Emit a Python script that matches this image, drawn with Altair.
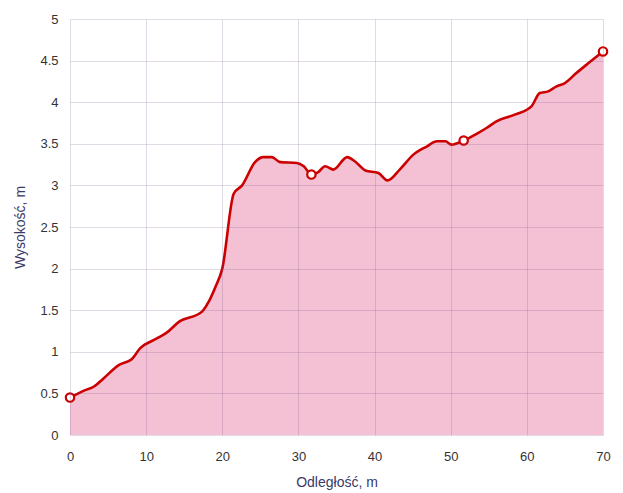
import altair as alt
import pandas as pd

distance = [0, 2.0, 3.1, 4.4, 6.4, 8.1, 9.2, 11.4, 12.7, 14.3, 17.3, 18.2, 19.1, 20.0, 21.5,
            22.6, 24.3, 25.4, 26.5, 27.6, 29.8, 30.7, 31.7, 32.6, 33.5, 34.6, 36.4, 37.4, 38.8,
            40.5, 41.7, 43.3, 45.1, 46.9, 48.2, 49.3, 50.1, 51.7, 53.4, 54.7, 56.0, 58.4, 60.6,
            61.7, 62.8, 63.9, 65.0, 66.5, 68.1, 70]
height = [0.45, 0.54, 0.58, 0.68, 0.84, 0.91, 1.04, 1.16, 1.23, 1.36, 1.48, 1.60, 1.78, 2.0, 2.9,
          3.0, 3.28, 3.34, 3.34, 3.28, 3.27, 3.23, 3.13, 3.16, 3.23, 3.19, 3.34, 3.29, 3.18,
          3.15, 3.06, 3.19, 3.37, 3.47, 3.53, 3.53, 3.49, 3.54, 3.62, 3.69, 3.77, 3.85, 3.95,
          4.11, 4.13, 4.19, 4.23, 4.35, 4.47, 4.61]
marker_distance = [0, 31.7, 51.7, 70]
marker_height = [0.45, 3.13, 3.54, 4.61]

x_ticks = [0, 10, 20, 30, 40, 50, 60, 70]
y_ticks = [0, 0.5, 1, 1.5, 2, 2.5, 3, 3.5, 4, 4.5, 5]

df = pd.DataFrame({"d": distance, "h": height})
mk = pd.DataFrame({"d": marker_distance, "h": marker_height})

font = "Liberation Sans"

x_enc = alt.X("d:Q", scale=alt.Scale(domain=[0, 70], nice=False),
              axis=alt.Axis(values=x_ticks, title="Odległość, m", grid=True, domain=False,
                            ticks=False, labelPadding=15, titlePadding=12, zindex=1,
                            labelFlush=False, labelOverlap=False,
                            labelExpr="'' + datum.value"))
y_enc = alt.Y("h:Q", scale=alt.Scale(domain=[0, 5], nice=False),
              axis=alt.Axis(values=y_ticks, title="Wysokość, m", grid=True, domain=False,
                            ticks=False, labelPadding=12, titlePadding=12, zindex=1,
                            labelFlush=False, labelOverlap=False,
                            labelExpr="'' + datum.value"))

area = alt.Chart(df).mark_area(color="#f0b0c6", opacity=0.78, interpolate="monotone").encode(
    x=x_enc, y=y_enc)
line = alt.Chart(df).mark_line(color="#cc0000", strokeWidth=2.6, interpolate="monotone").encode(
    x="d:Q", y="h:Q")
points = alt.Chart(mk).mark_point(shape="circle", size=70, filled=False, color="#cc0000",
                                  strokeWidth=2.2, fill="#ffffff", fillOpacity=1, opacity=1).encode(
    x="d:Q", y="h:Q")

chart = (area + line + points).properties(
    width=533, height=416,
    autosize=alt.AutoSizeParams(type="none"),
    padding={"left": 62, "top": 11, "right": 12, "bottom": 58},
    background="#ffffff",
).configure_axis(
    labelFont=font, titleFont=font, labelFontSize=13, titleFontSize=14,
    labelColor="#333333", titleColor="#3a3a66", titleFontWeight="normal",
    gridColor="#6a4a80", gridOpacity=0.2, gridWidth=1,
).configure_view(stroke=None)

chart.save("out.html", embed_options={"renderer": "svg", "actions": False})
